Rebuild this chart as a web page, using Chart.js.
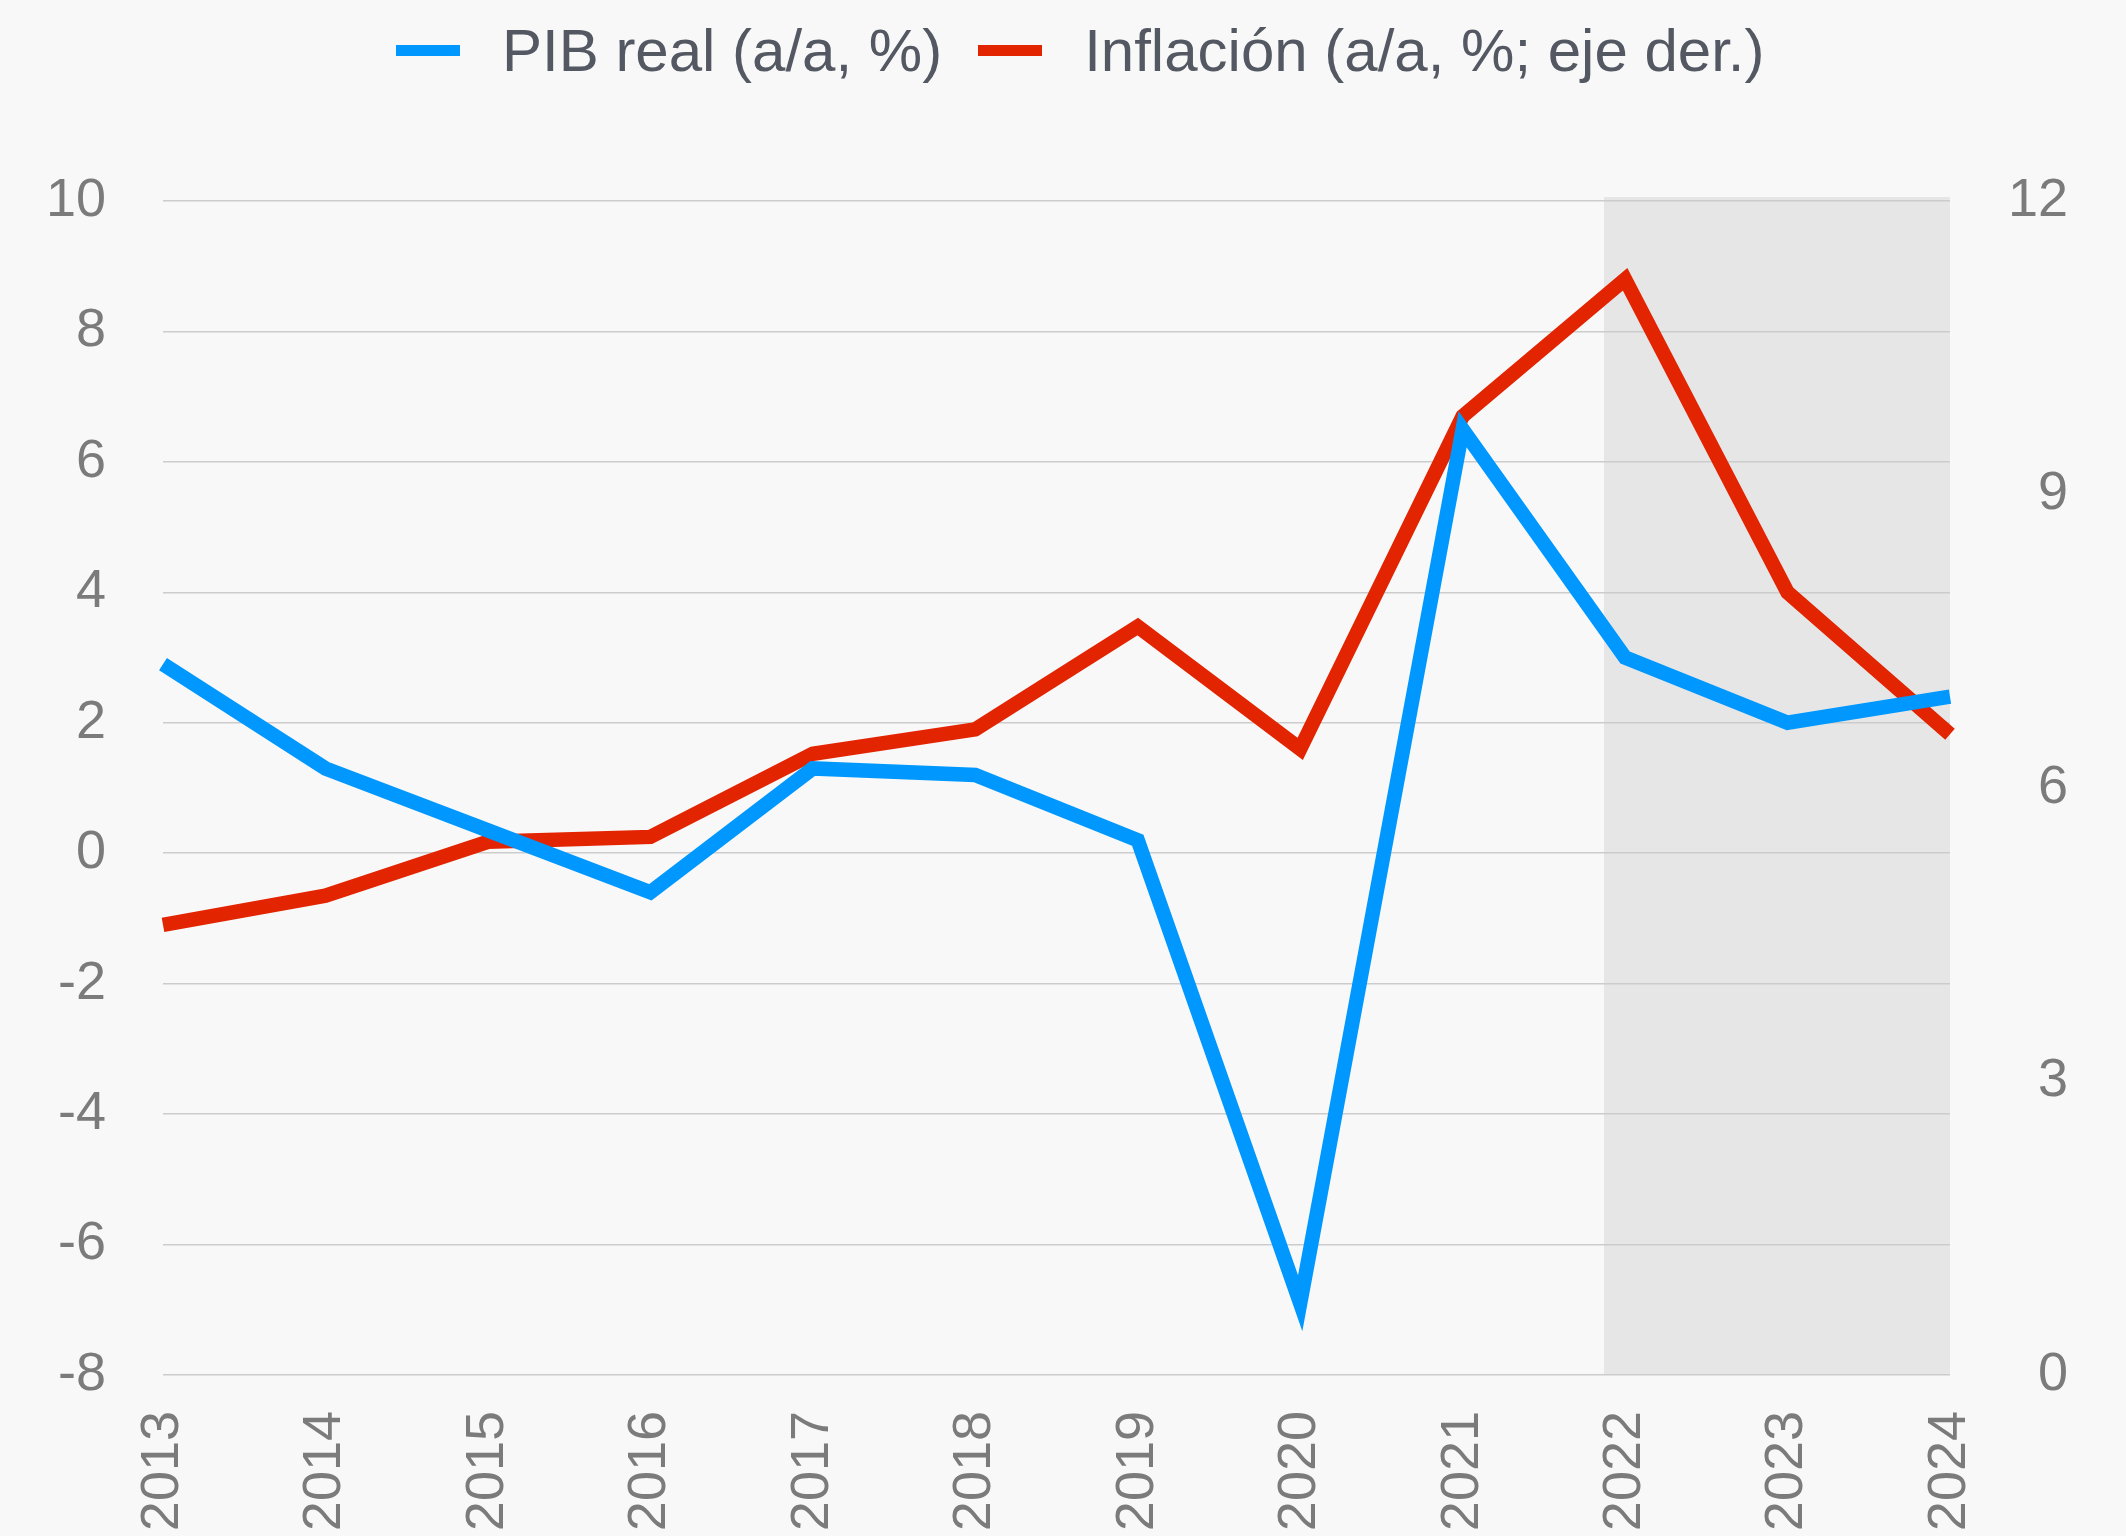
<!DOCTYPE html>
<html>
<head>
<meta charset="utf-8">
<script src="https://cdn.jsdelivr.net/npm/chart.js@4.4.1/dist/chart.umd.min.js"></script>
<style>
  html, body { margin: 0; padding: 0; background: #f8f8f8; }
  #wrap { position: relative; width: 2126px; height: 1536px; }
  #legend {
    position: absolute; top: 0; left: 396px; height: 100px;
    display: flex; align-items: center;
    font-family: 'Liberation Sans', Arial, sans-serif; font-size: 60px; color: #535862;
  }
  #legend .box { width: 64px; height: 11px; margin-right: 42px; }
  #legend .item { display: flex; align-items: center; margin-right: 36px; }
</style>
</head>
<body>
<div id="wrap">
  <canvas id="chart" width="2126" height="1536"></canvas>
  <div id="legend"></div>
</div>
<script>
/* ── Data ── */
const YEARS = ['2013', '2014', '2015', '2016', '2017', '2018', '2019', '2020', '2021', '2022', '2023', '2024'];
const PIB_REAL = [2.9, 1.3, 0.35, -0.6, 1.3, 1.2, 0.2, -6.9, 6.5, 3.0, 2.0, 2.4];
const INFLACION = [4.6, 4.9, 5.45, 5.5, 6.35, 6.6, 7.65, 6.4, 9.8, 11.2, 8.0, 6.55];
const SERIES_LABELS = ['PIB real (a/a, %)', 'Inflación (a/a, %; eje der.)'];
const SHADE_FROM = '2022';   /* shaded (forecast) period starts here */

const BLUE = '#0098ff';
const RED = '#e32400';
const TICK_FONT = { family: "'Liberation Sans', Arial, sans-serif", size: 54 };

/* Shaded background behind the forecast years */
const shadePlugin = {
  id: 'shade',
  beforeDraw(chart) {
    const x = chart.scales.x;
    const area = chart.chartArea;
    const step = x.getPixelForValue(1) - x.getPixelForValue(0);
    const left = x.getPixelForValue(YEARS.indexOf(SHADE_FROM)) - step * 0.13;
    const ctx = chart.ctx;
    ctx.save();
    ctx.fillStyle = '#e6e6e6';
    ctx.fillRect(left, area.top - 4, area.right - left, area.bottom - area.top + 4);
    ctx.restore();
  }
};

const chart = new Chart(document.getElementById('chart'), {
  type: 'line',
  data: {
    labels: YEARS,
    datasets: [
      { label: SERIES_LABELS[0], data: PIB_REAL, borderColor: BLUE, backgroundColor: BLUE, yAxisID: 'y' },
      { label: SERIES_LABELS[1], data: INFLACION, borderColor: RED, backgroundColor: RED, yAxisID: 'y1' }
    ]
  },
  options: {
    responsive: false,
    animation: false,
    layout: { padding: { top: 201, right: 58, bottom: 0, left: 0 } },
    elements: {
      line: { borderWidth: 14.5, tension: 0, borderCapStyle: 'butt' },
      point: { radius: 0, hoverRadius: 0 }
    },
    plugins: {
      legend: { display: false },
      tooltip: { enabled: false }
    },
    scales: {
      x: {
        offset: false,
        grid: { display: false },
        border: { display: false },
        ticks: { color: '#7b7b7b', font: TICK_FONT, maxRotation: 90, minRotation: 90, padding: 28, autoSkip: false },
        afterFit(scale) { scale.height = 161; }
      },
      y: {
        position: 'left',
        min: -8, max: 10,
        grid: { color: '#cccccc', lineWidth: 1.5, drawTicks: false },
        border: { display: false },
        ticks: { stepSize: 2, color: '#7b7b7b', font: TICK_FONT, padding: 57 },
        afterFit(scale) { scale.width = 163; }
      },
      y1: {
        position: 'right',
        min: 0, max: 12,
        grid: { display: false, drawTicks: false },
        border: { display: false },
        ticks: { stepSize: 3, color: '#7b7b7b', font: TICK_FONT, padding: 60, crossAlign: 'far' },
        afterFit(scale) { scale.width = 118; }
      }
    }
  },
  plugins: [shadePlugin]
});

/* ── HTML legend built from the datasets ── */
const legend = document.getElementById('legend');
chart.data.datasets.forEach(function(ds) {
  const item = document.createElement('div');
  item.className = 'item';
  const box = document.createElement('span');
  box.className = 'box';
  box.style.background = ds.borderColor;
  const txt = document.createElement('span');
  txt.textContent = ds.label;
  item.appendChild(box);
  item.appendChild(txt);
  legend.appendChild(item);
});
</script>
</body>
</html>
